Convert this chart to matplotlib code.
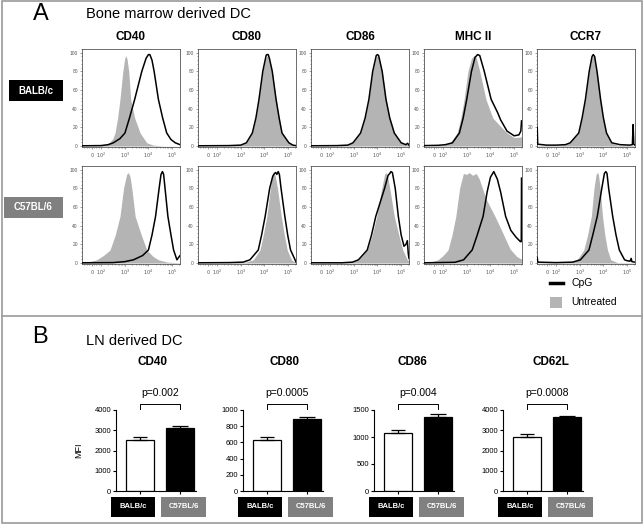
import numpy as np
import matplotlib
matplotlib.use('Agg')
import matplotlib.pyplot as plt
from matplotlib.patches import Rectangle
from matplotlib.ticker import MultipleLocator

plt.rcParams['font.family'] = ['Liberation Sans', 'DejaVu Sans']

#=================================#
#   data
#   histogram x is in "decades" : 2 -> 10^2, 5 -> 10^5
#=================================#

# panel A : column titles and strains
markers_a = ['CD40', 'CD80', 'CD86', 'MHC II', 'CCR7']
strains = ['BALB/c', 'C57BL/6']

# BALB/c row, (decade, % of max) points
cd40_balb_ut = [(1.2, 0), (1.9, 0.3), (2.2, 1.5), (2.35, 3.5), (2.5, 8), (2.59, 14), (2.7, 30), (2.8, 50),
                (2.92, 80), (3.0, 94), (3.05, 97), (3.1, 93), (3.17, 80), (3.25, 50), (3.42, 30), (3.65, 14),
                (3.93, 3.5), (4.2, 1), (4.6, 0.2), (5.33, 0)]
cd40_balb_cpg = [(1.2, 0.3), (2.0, 0.5), (2.3, 1.5), (2.52, 3.5), (2.8, 8), (3.01, 14), (3.2, 30), (3.42, 50),
                 (3.72, 80), (3.9, 94), (4.0, 98), (4.06, 98), (4.15, 92), (4.24, 80), (4.42, 50), (4.6, 30),
                 (4.77, 14), (4.95, 7), (5.13, 3.5), (5.33, 1.5)]
cd80_balb_ut = [(1.2, 0), (2.5, 0.3), (3.0, 1), (3.24, 3.5), (3.49, 14), (3.64, 30), (3.77, 50), (3.93, 80),
                (4.06, 95), (4.13, 97), (4.2, 94), (4.33, 80), (4.49, 50), (4.62, 30), (4.74, 14), (5.03, 3.5),
                (5.2, 1), (5.33, 0.5)]
cd80_balb_cpg = [(1.2, 0.3), (2.5, 0.5), (3.0, 1), (3.24, 3.5), (3.49, 14), (3.64, 30), (3.77, 50), (3.93, 80),
                 (4.07, 97), (4.1, 98), (4.16, 98), (4.21, 94), (4.33, 80), (4.49, 50), (4.62, 30), (4.74, 14),
                 (5.03, 3.5), (5.2, 1), (5.33, 0.5)]
cd86_balb_ut = [(1.2, 0), (2.3, 0.3), (2.75, 1), (2.97, 3.5), (3.29, 14), (3.48, 30), (3.64, 50), (3.8, 80),
                (3.94, 95), (4.0, 97), (4.06, 95), (4.2, 80), (4.36, 50), (4.52, 30), (4.71, 14), (5.0, 3.5),
                (5.2, 1.5), (5.28, 2), (5.33, 1)]
cd86_balb_cpg = [(1.2, 0.3), (2.3, 0.5), (2.75, 1), (2.97, 3.5), (3.29, 14), (3.48, 30), (3.64, 50), (3.8, 80),
                 (3.95, 97), (4.0, 98), (4.05, 97), (4.2, 80), (4.36, 50), (4.52, 30), (4.71, 14), (5.0, 3.5),
                 (5.2, 1.5), (5.27, 3), (5.33, 1)]
mhc_balb_ut = [(1.2, 0), (1.8, 0.5), (2.1, 1.5), (2.3, 3.5), (2.6, 14), (2.75, 30), (2.89, 50), (3.05, 80),
               (3.2, 94), (3.31, 97), (3.4, 95), (3.55, 80), (3.81, 50), (4.1, 30), (4.43, 21), (4.7, 14),
               (5.0, 9), (5.2, 9.5), (5.33, 10)]
mhc_balb_cpg = [(1.2, 0.5), (1.8, 0.8), (2.1, 1.5), (2.4, 3.5), (2.69, 14), (2.85, 30), (3.0, 50), (3.2, 80),
                (3.35, 95), (3.46, 98), (3.55, 97), (3.74, 80), (4.03, 50), (4.3, 36), (4.43, 28), (4.7, 16),
                (5.0, 11), (5.2, 12), (5.28, 16), (5.31, 27)]
ccr7_balb_ut = [(1.2, 0.5), (2.0, 0.5), (2.4, 1.5), (2.6, 3.5), (2.96, 14), (3.1, 30), (3.24, 50), (3.4, 80),
                (3.52, 95), (3.57, 97), (3.63, 95), (3.72, 80), (3.86, 50), (3.98, 30), (4.1, 14), (4.31, 3.5),
                (4.6, 1), (5.33, 0.5)]
ccr7_balb_cpg = [(1.21, 20), (1.23, 2), (1.6, 1), (2.0, 1), (2.4, 1.5), (2.6, 3.5), (2.96, 14), (3.1, 30),
                 (3.24, 50), (3.4, 80), (3.52, 96), (3.57, 98), (3.63, 96), (3.73, 80), (3.88, 50), (4.0, 30),
                 (4.13, 14), (4.35, 3.5), (4.7, 1.5), (5.1, 1), (5.22, 1.5), (5.25, 23), (5.28, 2), (5.33, 1)]

# C57BL/6 row
cd40_c57_ut = [(1.2, 1.5), (1.5, 1.5), (1.82, 3.5), (2.1, 8), (2.38, 14), (2.6, 30), (2.8, 50), (2.95, 80),
               (3.08, 95), (3.15, 97), (3.22, 93), (3.3, 80), (3.44, 50), (3.7, 30), (3.93, 14), (4.2, 7),
               (4.42, 3.5), (4.8, 1), (5.33, 0.3)]
cd40_c57_cpg = [(1.2, 0.3), (2.5, 0.5), (3.0, 1.5), (3.37, 3.5), (3.75, 8), (4.0, 14), (4.15, 30), (4.3, 50),
                (4.45, 80), (4.53, 95), (4.59, 98), (4.64, 95), (4.7, 80), (4.82, 50), (4.95, 30), (5.06, 14),
                (5.2, 3.5), (5.27, 6), (5.33, 8)]
cd80_c57_ut = [(1.2, 0), (2.5, 0.3), (3.2, 1), (3.53, 3.5), (3.81, 14), (3.95, 30), (4.1, 50), (4.25, 80),
               (4.34, 95), (4.39, 97), (4.45, 94), (4.55, 80), (4.71, 50), (4.84, 30), (4.96, 14), (5.14, 3.5),
               (5.3, 0.5)]
cd80_c57_cpg = [(1.2, 0.3), (2.5, 0.5), (3.1, 1), (3.39, 3.5), (3.74, 14), (3.88, 30), (4.03, 50), (4.22, 80),
                (4.35, 93), (4.42, 96), (4.47, 97), (4.52, 95), (4.58, 98), (4.63, 95), (4.7, 80), (4.86, 50),
                (4.98, 30), (5.1, 14), (5.29, 3.5), (5.33, 1)]
cd86_c57_ut = [(1.2, 0), (2.5, 0.3), (2.95, 1), (3.21, 3.5), (3.57, 14), (3.78, 30), (3.97, 50), (4.18, 80),
               (4.3, 95), (4.36, 97), (4.42, 94), (4.52, 80), (4.71, 50), (4.9, 30), (5.07, 14), (5.26, 3.5),
               (5.33, 3)]
cd86_c57_cpg = [(1.2, 0.3), (2.5, 0.3), (2.95, 1), (3.2, 3.5), (3.57, 14), (3.75, 30), (3.93, 50), (4.3, 80),
                (4.45, 94), (4.52, 96), (4.57, 98), (4.63, 97), (4.75, 80), (4.88, 50), (5.0, 30), (5.12, 18),
                (5.2, 20), (5.26, 24), (5.3, 10), (5.33, 5)]
mhc_c57_ut = [(1.2, 0.5), (1.6, 2), (1.79, 3.5), (2.0, 8), (2.21, 14), (2.38, 30), (2.54, 50), (2.7, 80),
              (2.86, 96), (3.0, 95), (3.1, 97), (3.25, 94), (3.4, 96), (3.53, 90), (3.81, 69), (4.19, 50),
              (4.47, 35), (4.83, 15), (5.11, 7), (5.33, 4)]
mhc_c57_cpg = [(1.2, 0.3), (2.5, 0.8), (2.87, 3.5), (3.23, 14), (3.43, 29), (3.69, 50), (3.86, 76), (4.0, 92),
               (4.14, 98), (4.29, 90), (4.43, 76), (4.64, 50), (4.86, 35), (5.07, 28), (5.26, 23), (5.3, 23),
               (5.31, 91)]
ccr7_c57_ut = [(1.2, 0.3), (2.4, 0.5), (2.6, 1), (2.89, 3.5), (3.17, 14), (3.33, 30), (3.49, 50), (3.6, 80),
               (3.69, 95), (3.74, 97), (3.79, 95), (3.86, 80), (3.96, 50), (4.06, 30), (4.17, 14), (4.31, 3.5),
               (4.6, 0.5), (5.33, 0.3)]
ccr7_c57_cpg = [(1.21, 6), (1.23, 1), (2.0, 0.5), (2.7, 1), (3.03, 3.5), (3.39, 14), (3.55, 30), (3.74, 50),
                (3.93, 80), (4.04, 96), (4.1, 98), (4.15, 96), (4.22, 80), (4.39, 50), (4.53, 30), (4.67, 14),
                (4.89, 3.5), (5.0, 2.5), (5.12, 2), (5.17, 5), (5.2, 1.5), (5.33, 1)]

balb_row = [(cd40_balb_ut, cd40_balb_cpg), (cd80_balb_ut, cd80_balb_cpg), (cd86_balb_ut, cd86_balb_cpg),
            (mhc_balb_ut, mhc_balb_cpg), (ccr7_balb_ut, ccr7_balb_cpg)]
c57_row = [(cd40_c57_ut, cd40_c57_cpg), (cd80_c57_ut, cd80_c57_cpg), (cd86_c57_ut, cd86_c57_cpg),
           (mhc_c57_ut, mhc_c57_cpg), (ccr7_c57_ut, ccr7_c57_cpg)]

hist_ticks = [1.62, 2, 3, 4, 5]
hist_ticklabels = ['$0$', '$10^2$', '$10^3$', '$10^4$', '$10^5$']

# panel B : LN derived DC, MFI
markers_b = ['CD40', 'CD80', 'CD86', 'CD62L']
balb_mfi = [2515, 630, 1075, 2645]
balb_sem = [130, 40, 55, 160]
c57_mfi = [3130, 892, 1378, 3640]
c57_sem = [60, 16, 42, 75]
p_values = ['p=0.002', 'p=0.0005', 'p=0.004', 'p=0.0008']
ymax_b = [4000, 1000, 1500, 4000]
ystep_b = [1000, 200, 500, 1000]

#=================================#
#   layout (pixels of a 643x525 figure)
#=================================#
W, H = 643, 525
GRAY = '#b4b4b4'
BOXGRAY = '#808080'

fig = plt.figure(figsize=(W / 100, H / 100), dpi=100)


def px_axes(x0, y0, x1, y1):
    return fig.add_axes([x0 / W, 1 - y1 / H, (x1 - x0) / W, (y1 - y0) / H])


def px_text(x, y, s, **kw):
    fig.text(x / W, 1 - y / H, s, **kw)


def px_rect(x0, y0, x1, y1, **kw):
    fig.add_artist(Rectangle((x0 / W, 1 - y1 / H), (x1 - x0) / W, (y1 - y0) / H,
                             transform=fig.transFigure, **kw))


def px_line(xs, ys, **kw):
    fig.add_artist(plt.Line2D([x / W for x in xs], [1 - y / H for y in ys],
                              transform=fig.transFigure, **kw))


def strain_box(x0, y0, x1, y1, label, color, size):
    px_rect(x0, y0, x1, y1, facecolor=color, edgecolor='none')
    px_text((x0 + x1) / 2, (y0 + y1) / 2, label, color='white', fontsize=size,
            fontweight='bold', ha='center', va='center')


# outer frame and divider between A and B
px_rect(1.5, 1, 641.5, 523, facecolor='none', edgecolor='#9a9a9a', lw=1.2)
px_line([1.5, 641.5], [316, 316], color='#9a9a9a', lw=1.2)

px_text(33, 14, 'A', fontsize=17, ha='left', va='center')
px_text(86, 14, 'Bone marrow derived DC', fontsize=10.5, ha='left', va='center')

col_left = [82, 198, 311, 424, 537]
col_w = 98
row_top = [49, 166]

for j, m in enumerate(markers_a):
    px_text(col_left[j] + col_w / 2, 37, m, fontsize=8.5, fontweight='bold', ha='center', va='center')

strain_box(9, 80, 63, 101, strains[0], 'black', 7)
strain_box(4, 197, 63, 218, strains[1], BOXGRAY, 7)

minor_x = [1.3, 1.4, 1.5, 1.7, 1.8, 1.9]
for k in [2, 3, 4]:
    minor_x += [k + np.log10(m) for m in range(2, 10)]
minor_x += [5.3]

for i, row in enumerate([balb_row, c57_row]):
    for j, (ut, cpg) in enumerate(row):
        ax = px_axes(col_left[j], row_top[i], col_left[j] + col_w, row_top[i] + 98)
        gx, gy = np.array(ut).T
        bx, by = np.array(cpg).T
        ax.fill_between(gx, gy, 0, color=GRAY, lw=0, zorder=1)
        ax.plot(bx, by, color='black', lw=1.1, zorder=3, solid_joinstyle='round')
        ax.set_xlim(1.2, 5.33)
        ax.set_ylim(-1, 104)
        ax.set_xticks(hist_ticks)
        ax.set_xticklabels(hist_ticklabels)
        ax.set_xticks(minor_x, minor=True)
        ax.set_yticks([0, 20, 40, 60, 80, 100])
        ax.yaxis.set_minor_locator(MultipleLocator(4))
        ax.tick_params(which='both', labelsize=3.5, length=1.5, width=0.4, colors='#555555', pad=1.5)
        ax.tick_params(which='minor', length=1)
        for s in ax.spines.values():
            s.set_linewidth(0.6)
            s.set_color('#555555')

# legend
px_line([550, 563], [283, 283], color='black', lw=2.5)
px_rect(550, 297, 562, 308, facecolor=GRAY, edgecolor='none')
px_text(571, 283, 'CpG', fontsize=7.5, ha='left', va='center')
px_text(571, 302, 'Untreated', fontsize=7.5, ha='left', va='center')

#=================================#
#   panel B : bar charts
#=================================#
px_text(32, 337, 'B', fontsize=17, ha='left', va='center')
px_text(86, 341, 'LN derived DC', fontsize=10.5, ha='left', va='center')

axis_x = [116, 243, 374, 503]
title_x = [153, 284, 412, 551]
for k, m in enumerate(markers_b):
    xa = axis_x[k]
    ax = px_axes(xa, 410, xa + 80, 491)
    ax.bar([0], [balb_mfi[k]], width=0.7, color='white', edgecolor='black', lw=0.9,
           yerr=[[0], [balb_sem[k]]], error_kw=dict(ecolor='black', elinewidth=0.9, capsize=5, capthick=0.9))
    ax.bar([1], [c57_mfi[k]], width=0.7, color='black', edgecolor='black', lw=0.9,
           yerr=[[0], [c57_sem[k]]], error_kw=dict(ecolor='black', elinewidth=0.9, capsize=6, capthick=0.9))
    ax.set_xlim(-0.6, 1.4)
    ax.set_ylim(0, ymax_b[k])
    ax.set_yticks(np.arange(0, ymax_b[k] + 1, ystep_b[k]))
    ax.set_xticks([0, 1])
    ax.set_xticklabels([])
    ax.tick_params(labelsize=5.5, length=2.5, width=0.8, pad=1)
    ax.spines['top'].set_visible(False)
    ax.spines['right'].set_visible(False)
    ax.spines['left'].set_linewidth(0.8)
    ax.spines['bottom'].set_linewidth(0.8)
    # significance bracket
    tr = ax.get_xaxis_transform()
    ax.plot([0, 0, 1, 1], [1.012, 1.075, 1.075, 1.012], color='black', lw=0.7, transform=tr, clip_on=False)
    ax.text(0.5, 1.21, p_values[k], transform=tr, ha='center', va='center', fontsize=7.5)
    px_text(title_x[k], 362, m, fontsize=8.5, fontweight='bold', ha='center', va='center')
    if k == 0:
        px_text(79, 450, 'MFI', fontsize=6.5, rotation=90, ha='center', va='center')
    strain_box(xa - 5, 497, xa + 39, 517, strains[0], 'black', 5.5)
    strain_box(xa + 45, 497, xa + 90, 517, strains[1], BOXGRAY, 5.5)

plt.savefig('out.png', dpi=100)
